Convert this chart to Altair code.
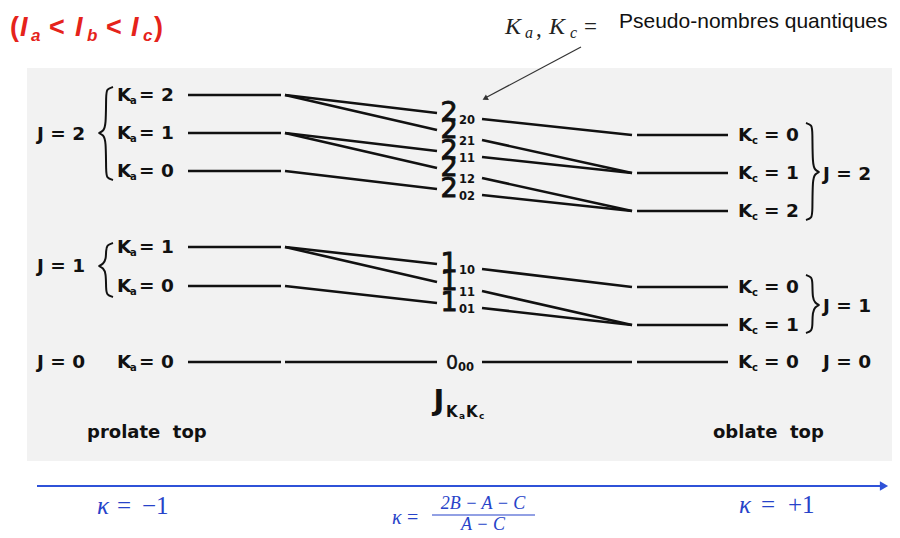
import altair as alt
import pandas as pd

# ---------------- data ----------------
# prolate-top levels  (J, Ka)  and their heights on the energy scale
prolate_J = [2, 2, 2, 1, 1, 0]
prolate_Ka = [2, 1, 0, 1, 0, 0]
prolate_E = [95, 133, 171, 247, 286, 362]

# oblate-top levels  (J, Kc)
oblate_J = [2, 2, 2, 1, 1, 0]
oblate_Kc = [0, 1, 2, 0, 1, 0]
oblate_E = [135, 173, 211, 287, 325, 362]

# asymmetric-top states J_{Ka Kc}
state_J = [2, 2, 2, 2, 2, 1, 1, 1, 0]
state_Ka = [2, 2, 1, 1, 0, 1, 1, 0, 0]
state_Kc = [0, 1, 1, 2, 2, 0, 1, 1, 0]
state_E_in = [113, 130, 151, 168, 189, 264, 282, 303, 362]
state_E_out = [119, 140, 157, 178, 195, 269, 291, 308, 362]

# columns of the diagram along kappa
X_PRO = [188, 281]
X_LEFT = [285, 437]
X_RIGHT = [482, 632]
X_OBL = [637, 728]

# ---------------- build tables ----------------
pro = {(j, k): e for j, k, e in zip(prolate_J, prolate_Ka, prolate_E)}
obl = {(j, k): e for j, k, e in zip(oblate_J, oblate_Kc, oblate_E)}

segs = []
for e in prolate_E:
    segs.append(dict(x=X_PRO[0], x2=X_PRO[1], y=e, y2=e))
for e in oblate_E:
    segs.append(dict(x=X_OBL[0], x2=X_OBL[1], y=e, y2=e))
for j, ka, kc, ein, eout in zip(state_J, state_Ka, state_Kc, state_E_in, state_E_out):
    segs.append(dict(x=X_LEFT[0], x2=X_LEFT[1], y=pro[(j, ka)], y2=ein))
    segs.append(dict(x=X_RIGHT[0], x2=X_RIGHT[1], y=eout, y2=obl[(j, kc)]))
segs = pd.DataFrame(segs)

labels = []
def lab(text, x, y, style):
    labels.append(dict(text=text, x=x, y=y, style=style))

NB = "\u00a0"
# left side
lab("J = 2", 37, 134, "lbl")
lab("J = 1", 37, 266, "lbl")
lab("J = 0", 37, 362, "lbl")
for ka, e in zip(prolate_Ka, prolate_E):
    lab("K", 117, e, "lbl")
    lab("a", 130, e + 6, "ksub")
    lab("= %d" % ka, 139, e, "lbl")
# right side
for kc, e in zip(oblate_Kc, oblate_E):
    lab("K", 738, e, "lbl")
    lab("c", 752, e + 6, "ksub")
    lab("= %d" % kc, 764, e, "lbl")
lab("J = 2", 823, 174, "lbl")
lab("J = 1", 823, 306, "lbl")
lab("J = 0", 823, 362, "lbl")
# centre labels
for j, ka, kc, ein, eout in zip(state_J, state_Ka, state_Kc, state_E_in, state_E_out):
    if j > 0:
        lab(str(j), 449, ein, "big")
        lab("%d%d" % (ka, kc), 459, eout + 2, "csub")
    else:
        lab(str(j), 452, ein + 1, "zero")
        lab("%d%d" % (ka, kc), 458, ein + 6, "csub")
lab("J", 439, 401, "Jbig")
lab("K", 446, 412, "Jk")
lab("a", 459, 416, "Jsub")
lab("K", 466, 412, "Jk")
lab("c", 479, 416, "Jsub")
lab("prolate" + NB + NB + "top", 87, 433, "top")
lab("oblate" + NB + NB + "top", 713, 433, "top")
# title
lab("(", 10, 28, "red")
lab("I", 20, 28, "redI")
lab("a", 31, 36, "redsub")
lab("<", 49, 28, "red")
lab("I", 75, 28, "redI")
lab("b", 87, 36, "redsub")
lab("<", 106, 28, "red")
lab("I", 131, 28, "redI")
lab("c", 143, 36, "redsub")
lab(")", 154, 28, "red")
# annotation
lab("K", 505, 27, "mathI")
lab("a", 525, 33, "mathsub")
lab(",", 536, 29, "math")
lab("K", 549, 27, "mathI")
lab("c", 570, 33, "mathsub")
lab("=", 584, 27, "math")
lab("Pseudo-nombres quantiques", 619, 22, "pseudo")
# kappa axis
lab("κ", 97, 506, "blueI")
lab("=", 117, 506, "blue")
lab("−1", 142, 506, "blue")
lab("κ", 739, 505, "blueI")
lab("=", 761, 505, "blue")
lab("+1", 788, 505, "blue")
lab("κ", 392, 518, "fblueI")
lab("=", 407, 518, "fblue")
lab("2B − A − C", 483, 504, "fnum")
lab("A − C", 483, 525, "fnum")
labels = pd.DataFrame(labels)

SANS = "DejaVu Sans"
SERIF = "Liberation Serif"
BLUE = "#2743c9"
RED = "#e5231b"
styles = {
    "lbl": dict(font=SANS, fontSize=18.5, fontWeight="bold"),
    "ksub": dict(font=SANS, fontSize=10, fontWeight="bold"),
    "big": dict(font=SANS, fontSize=27, align="center", stroke="#111111", strokeWidth=0.9),
    "zero": dict(font=SANS, fontSize=19, align="center", stroke="#111111", strokeWidth=0.4),
    "csub": dict(font=SANS, fontSize=11.5, fontWeight="bold"),
    "Jbig": dict(font=SANS, fontSize=29, fontWeight="bold", align="center"),
    "Jk": dict(font=SANS, fontSize=15, fontWeight="bold"),
    "Jsub": dict(font=SANS, fontSize=9, fontWeight="bold"),
    "top": dict(font=SANS, fontSize=18, fontWeight="bold"),
    "red": dict(font="Liberation Sans", fontSize=27, fontWeight="bold", color=RED),
    "redI": dict(font="Liberation Sans", fontSize=27, fontWeight="bold", fontStyle="italic", color=RED),
    "redsub": dict(font="Liberation Sans", fontSize=17, fontWeight="bold", fontStyle="italic", color=RED),
    "mathI": dict(font=SERIF, fontSize=24, fontStyle="italic", color="#222222"),
    "mathsub": dict(font=SERIF, fontSize=16, fontStyle="italic", color="#222222"),
    "math": dict(font=SERIF, fontSize=23, color="#222222"),
    "pseudo": dict(font="Liberation Sans", fontSize=21, color="#111111"),
    "blueI": dict(font=SERIF, fontSize=25, fontStyle="italic", color=BLUE),
    "blue": dict(font=SERIF, fontSize=25, color=BLUE),
    "fblueI": dict(font=SERIF, fontSize=20, fontStyle="italic", color=BLUE),
    "fblue": dict(font=SERIF, fontSize=20, color=BLUE),
    "fnum": dict(font=SERIF, fontSize=18, fontStyle="italic", color=BLUE, align="center"),
}

# braces (decoration)
def brace(bid, x_end, x_tip, top, bot, mid):
    d = x_tip - x_end
    pts = [(x_end, top), (x_end + 0.45 * d, top + 2), (x_end + 0.5 * d, top + 8),
           (x_end + 0.5 * d, mid - 7), (x_end + 0.7 * d, mid - 2), (x_tip, mid), (x_tip, mid),
           (x_end + 0.7 * d, mid + 2), (x_end + 0.5 * d, mid + 7),
           (x_end + 0.5 * d, bot - 8), (x_end + 0.45 * d, bot - 2), (x_end, bot)]
    return [dict(bid=bid, i=i, x=px, y=py) for i, (px, py) in enumerate(pts)]

br = pd.DataFrame(brace("L2", 113, 99, 87, 180, 133) + brace("L1", 113, 99, 243, 297, 266)
                  + brace("R2", 806, 819, 123, 220, 172) + brace("R1", 806, 819, 275, 333, 305))

# ---------------- chart ----------------
XS = alt.Scale(domain=[8, 892], nice=False, zero=False)
YS = alt.Scale(domain=[8, 530], nice=False, zero=False, reverse=True)
X = lambda f: alt.X(f, type="quantitative", scale=XS, axis=None)
Y = lambda f: alt.Y(f, type="quantitative", scale=YS, axis=None)

panel = alt.Chart(pd.DataFrame([dict(x=27, x2=892, y=68, y2=461)])).mark_rect(
    color="#f2f2f2").encode(x=X("x"), x2="x2", y=Y("y"), y2="y2")

lines = alt.Chart(segs).mark_rule(color="#111111", strokeWidth=2.6).encode(
    x=X("x"), x2="x2", y=Y("y"), y2="y2")

braces = alt.Chart(br).mark_line(color="#111111", strokeWidth=2, interpolate="basis").encode(
    x=X("x"), y=Y("y"), order="i:Q", detail="bid:N")

arrow = alt.Chart(pd.DataFrame([dict(x=581, x2=487, y=47, y2=97)])).mark_rule(
    color="#333333", strokeWidth=1.2).encode(x=X("x"), x2="x2", y=Y("y"), y2="y2")
arrow_head = alt.Chart(pd.DataFrame([dict(x=485, y=98.5)])).mark_point(
    shape="triangle-up", angle=242, size=40, filled=True, color="#333333", opacity=1).encode(
    x=X("x"), y=Y("y"))

axis_line = alt.Chart(pd.DataFrame([dict(x=37, x2=884, y=486, y2=486)])).mark_rule(
    color="#2f52d8", strokeWidth=2.2).encode(x=X("x"), x2="x2", y=Y("y"), y2="y2")
axis_head = alt.Chart(pd.DataFrame([dict(x=884, y=486)])).mark_point(
    shape="triangle-right", size=90, filled=True, color="#2f52d8", opacity=1).encode(
    x=X("x"), y=Y("y"))
frac_bar = alt.Chart(pd.DataFrame([dict(x=432, x2=535, y=515, y2=515)])).mark_rule(
    color=BLUE, strokeWidth=1.2).encode(x=X("x"), x2="x2", y=Y("y"), y2="y2")

layers = [panel, lines, braces, arrow, arrow_head, axis_line, axis_head, frac_bar]
for name, props in styles.items():
    sub = labels[labels["style"] == name]
    if len(sub) == 0:
        continue
    p = dict(align="left", baseline="middle", color="#111111")
    p.update(props)
    layers.append(alt.Chart(sub).mark_text(**p).encode(x=X("x"), y=Y("y"), text="text:N"))

chart = alt.layer(*layers).properties(
    width=884, height=522, padding=0, autosize=alt.AutoSizeParams(type="none")
).configure_view(stroke=None, strokeWidth=0)

chart.save("out.html", embed_options={"renderer": "svg", "actions": False})
